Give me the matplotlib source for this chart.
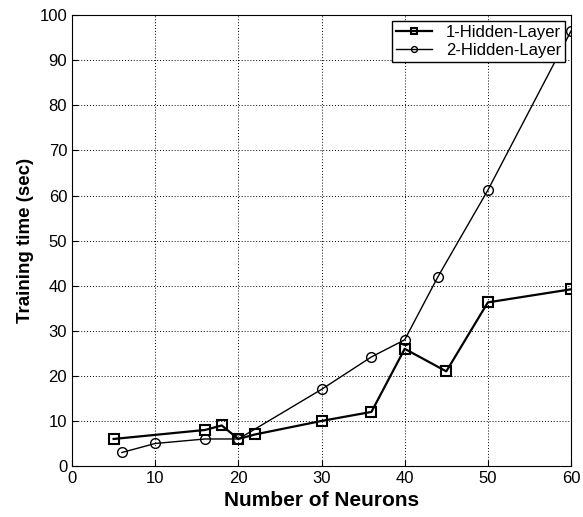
import matplotlib
matplotlib.use('Agg')
import matplotlib.pyplot as plt

plt.rcParams['font.family'] = ['Liberation Sans', 'DejaVu Sans']

# 1 hidden layer
x1 = [5, 16, 18, 20, 22, 30, 36, 40, 45, 50, 60]
y1 = [6, 8, 9, 6, 7, 10, 12, 26, 21, 36.3, 39.2]

# 2 hidden layers
x2 = [6, 10, 16, 20, 30, 36, 40, 44, 50, 60]
y2 = [3, 5, 6, 6, 17, 24.2, 28, 42, 61.2, 96.5]

fig = plt.figure(figsize=(5.83, 5.17), dpi=100)
ax = fig.add_axes([0.1235, 0.0986, 0.856, 0.872])

ax.plot(x1, y1, 'k-', marker='s', markersize=6.5, markerfacecolor='none',
        markeredgewidth=1.5, linewidth=1.6, label='1-Hidden-Layer')
ax.plot(x2, y2, 'k-', marker='o', markersize=7, markerfacecolor='none',
        markeredgewidth=1.0, linewidth=1.0, label='2-Hidden-Layer')

ax.set_xlim(0, 60)
ax.set_ylim(0, 100)
ax.set_xticks(range(0, 61, 10))
ax.set_yticks(range(0, 101, 10))
ax.tick_params(direction='in', labelsize=12, length=4)
ax.grid(True, linestyle=(0, (1, 2)), color='black', linewidth=0.7)

ax.set_xlabel('Number of Neurons', fontsize=15, fontweight='bold')
ax.set_ylabel('Training time (sec)', fontsize=13.5, fontweight='bold')

leg = ax.legend(loc='upper right', fontsize=12, fancybox=False, framealpha=1,
                edgecolor='black', borderaxespad=0.35, handlelength=2.2,
                handletextpad=0.8, markerscale=0.6,
                borderpad=0.25, labelspacing=0.15)
leg.get_frame().set_linewidth(1.0)

fig.savefig('out.png', dpi=100)
